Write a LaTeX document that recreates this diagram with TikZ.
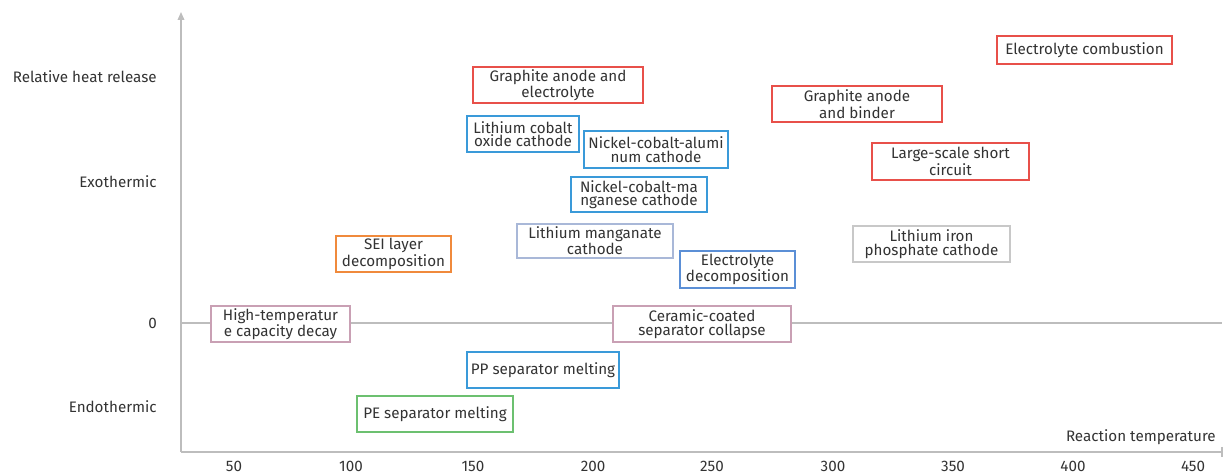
\documentclass[tikz,border=0pt]{standalone}
\usepackage{fontspec}
\setmainfont{Fira Sans}
\usetikzlibrary{arrows.meta}
\definecolor{ink}{HTML}{333333}
\definecolor{axisgray}{HTML}{BDBDBD}
\definecolor{cred}{HTML}{E8504A}
\definecolor{csky}{HTML}{3A9AD9}
\definecolor{corange}{HTML}{F08A3C}
\definecolor{cgreen}{HTML}{6CC070}
\definecolor{cmauve}{HTML}{C9A0B4}
\definecolor{cblue}{HTML}{5B8FD6}
\definecolor{clight}{HTML}{A9B8D8}
\definecolor{cgray}{HTML}{C8C8C8}
\tikzset{
  txt/.style={text=ink, font=\fontsize{11.4}{10.2}\selectfont, inner sep=0pt},
  evbox/.style n args={3}{txt, draw=#1, line width=0.8pt, align=center,
    minimum width=#2*0.75pt, minimum height=#3*0.75pt, fill=white},
  axisline/.style={draw=axisgray, line width=1pt},
}
\begin{document}
\begin{tikzpicture}[x=0.75pt, y=-0.75pt]
\useasboundingbox (0,0) rectangle (1224,473);

% axes
\coordinate (ybot) at (181,452);
\coordinate (ytop) at (181,12);
\coordinate (xend) at (1222,452);
\coordinate (zl) at (181,323);
\coordinate (zr) at (1222,323);
\draw[axisline, -{Triangle[length=6pt, width=5pt, fill=axisgray]}] (ybot) -- (ytop);
\draw[axisline] (ybot) -- (xend);
\draw[axisline] (1222,447) -- (1222,457);
\draw[axisline] (zl) -- (zr);

% axis texts
\node[txt, anchor=east] (lrel) at (157,77) {Relative heat release};
\node[txt, anchor=east] (lexo) at (157,182) {Exothermic};
\node[txt, anchor=east] (lzero) at (157,323) {0};
\node[txt, anchor=east] (lendo) at (157,407) {Endothermic};
\node[txt, anchor=east] (lx) at (1216,437) {Reaction temperature};
\foreach \v/\x in {50/234,100/351,150/473,200/593,250/712,300/833,350/953,400/1073,450/1193}
  \node[txt] (t\v) at (\x,466) {\v};

% events
\node[evbox={cred}{175}{28}] (e1) at (1084.5,50) {Electrolyte combustion};
\node[evbox={cred}{170}{36}] (e2) at (558,85) {Graphite anode and\\electrolyte};
\node[evbox={cred}{170}{36}] (e3) at (857,104) {Graphite anode\\and binder};
\node[evbox={csky}{112}{36}] (e4) at (523,134) {Lithium cobalt\\oxide cathode};
\node[evbox={csky}{144}{37}] (e5) at (656,149.5) {Nickel-cobalt-alumi\\num cathode};
\node[evbox={cred}{157}{37}] (e6) at (950.5,161.5) {Large-scale short\\circuit};
\node[evbox={csky}{136}{35}] (e7) at (639,194.5) {Nickel-cobalt-ma\\nganese cathode};
\node[evbox={corange}{115}{36}] (e8) at (393.5,254) {SEI layer\\decomposition};
\node[evbox={clight}{156}{34}] (e9) at (595,241) {Lithium manganate\\cathode};
\node[evbox={cblue}{115}{37}] (e10) at (737.5,269.5) {Electrolyte\\decomposition};
\node[evbox={cgray}{157}{36}] (e11) at (931.5,244) {Lithium iron\\phosphate cathode};
\node[evbox={cmauve}{139}{36}] (e12) at (280.5,324) {High-temperatur\\e capacity decay};
\node[evbox={cmauve}{178}{36}] (e13) at (702,324) {Ceramic-coated\\separator collapse};
\node[evbox={csky}{152}{36}] (e14) at (543,370) {PP separator melting};
\node[evbox={cgreen}{156}{36}] (e15) at (435,414) {PE separator melting};
\end{tikzpicture}
\end{document}
